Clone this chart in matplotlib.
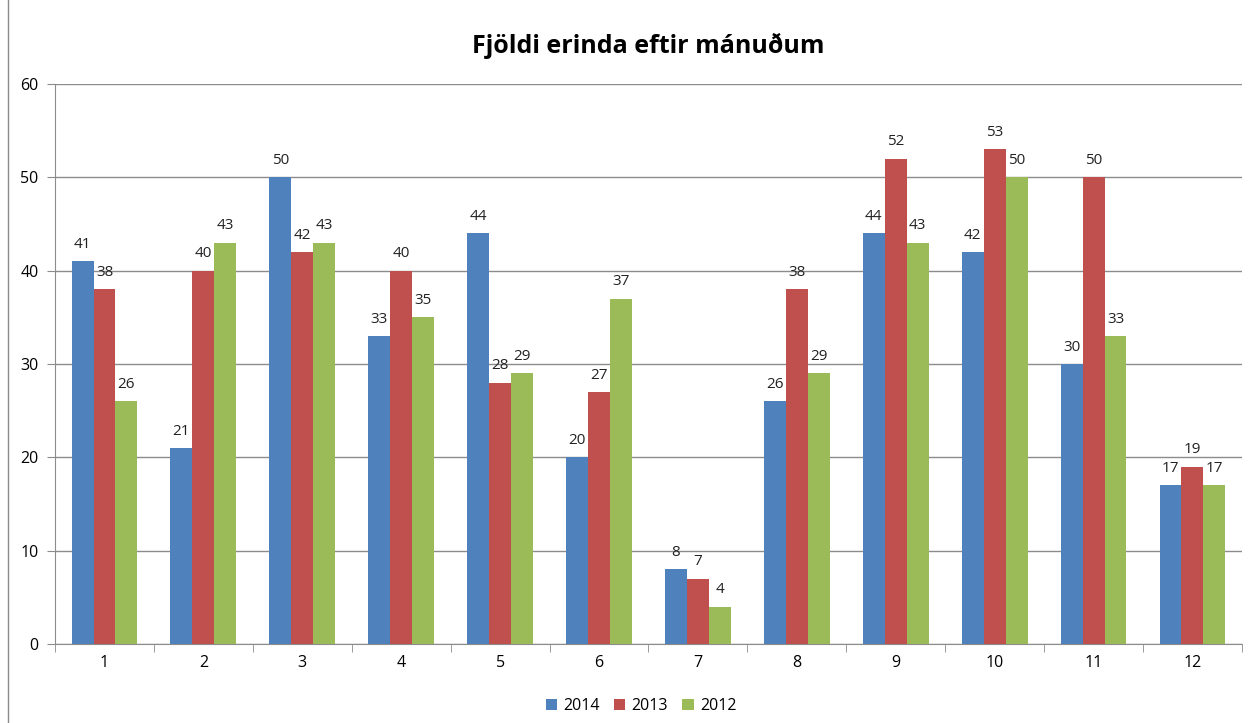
import matplotlib.pyplot as plt
import numpy as np

# data
months = ['1', '2', '3', '4', '5', '6', '7', '8', '9', '10', '11', '12']
v2014 = [41, 21, 50, 33, 44, 20, 8, 26, 44, 42, 30, 17]
v2013 = [38, 40, 42, 40, 28, 27, 7, 38, 52, 53, 50, 19]
v2012 = [26, 43, 43, 35, 29, 37, 4, 29, 43, 50, 33, 17]

plt.rcParams['font.family'] = ['Open Sans', 'DejaVu Sans']

fig = plt.figure(figsize=(12.57, 7.23), dpi=100)
ax = fig.add_axes([0.0438, 0.1093, 0.9442, 0.7745])

x = np.arange(len(months))
w = 0.222
series = [('2014', v2014, '#4F81BD'), ('2013', v2013, '#C0504D'), ('2012', v2012, '#9BBB59')]
for i, (name, vals, col) in enumerate(series):
    bars = ax.bar(x + (i - 1) * w, vals, w, color=col, label=name, zorder=3)
    for b, v in zip(bars, vals):
        ax.text(b.get_x() + b.get_width() / 2, v + 1.0, str(v), ha='center', va='bottom',
                fontsize=11, color='#222222')

ax.set_xlim(-0.5, len(months) - 0.5)
ax.set_ylim(0, 60)
ax.set_yticks(range(0, 61, 10))
ax.yaxis.grid(True, color='#8c8c8c', linewidth=1, zorder=0)
ax.set_xticks(x)
ax.set_xticklabels(months)
ax.set_xticks(np.arange(-0.5, len(months), 1), minor=True)
ax.tick_params(axis='x', which='major', length=0, pad=8, labelsize=11.5)
ax.tick_params(axis='x', which='minor', length=6, color='#8c8c8c', direction='out')
ax.tick_params(axis='y', length=6, color='#8c8c8c', labelsize=11.5, pad=6)
for s in ['top', 'right']:
    ax.spines[s].set_visible(False)
for s in ['left', 'bottom']:
    ax.spines[s].set_color('#8c8c8c')

ax.set_title('Fjöldi erinda eftir mánuðum', fontsize=18, fontweight='bold', pad=22)

fig.legend(loc='lower center', bbox_to_anchor=(0.51, -0.008), ncol=3, frameon=False,
           fontsize=11.5, handlelength=0.7, handleheight=0.7, columnspacing=0.9, handletextpad=0.4)

# outer chart border (left side visible in reference)
fig.add_artist(plt.Line2D([0.0065, 0.0065], [0, 1], color='#8c8c8c', linewidth=1))

fig.savefig('out.png', dpi=100)
